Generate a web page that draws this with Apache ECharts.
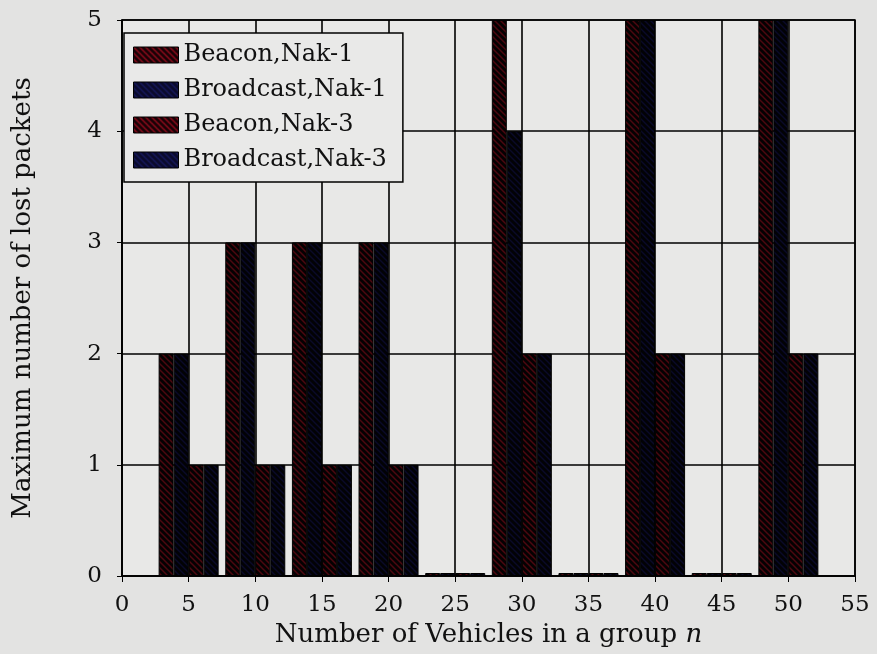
<!DOCTYPE html>
<html>
<head>
<meta charset="utf-8">
<script src="https://cdn.jsdelivr.net/npm/echarts@6/dist/echarts.min.js"></script>
<style>
  html, body { margin: 0; padding: 0; background: #e3e3e2; }
  #chart { width: 877px; height: 654px; }
</style>
</head>
<body>
<div id="chart"></div>
<script>
// Group sizes n (x positions of each bar group)
const groupSizes = [5, 10, 15, 20, 25, 30, 35, 40, 45, 50];

// Maximum number of lost packets per scheme
const beaconNak1    = [2, 3, 3, 3, 0, 5, 0, 5, 0, 5];
const broadcastNak1 = [2, 3, 3, 3, 0, 4, 0, 5, 0, 5];
const beaconNak3    = [1, 1, 1, 1, 0, 2, 0, 2, 0, 2];
const broadcastNak3 = [1, 1, 1, 1, 0, 2, 0, 2, 0, 2];

const seriesNames = ['Beacon,Nak-1', 'Broadcast,Nak-1', 'Beacon,Nak-3', 'Broadcast,Nak-3'];
const xTicks = { min: 0, max: 55, interval: 5 };
const yTicks = { min: 0, max: 5, interval: 1 };

// Hatched fill: near-black base with thin diagonal strokes
function hatch(base, line) {
  const c = document.createElement('canvas');
  c.width = 6; c.height = 6;
  const g = c.getContext('2d');
  g.fillStyle = base;
  g.fillRect(0, 0, 6, 6);
  g.strokeStyle = line;
  g.lineWidth = 1.5;
  g.beginPath();
  g.moveTo(-1, -1); g.lineTo(7, 7);
  g.moveTo(-1, 5); g.lineTo(1, 7);
  g.moveTo(5, -1); g.lineTo(7, 1);
  g.stroke();
  return { image: c, repeat: 'repeat' };
}

// bars: very dark, hatching only faintly visible
const redHatch = hatch('#050102', '#4c0810');
const blueHatch = hatch('#020205', '#0a0a28');
// legend swatches: hatching more visible
const redKey = hatch('#1a0206', '#8a0c1c');
const blueKey = hatch('#0a0a2c', '#16185a');

const fills = [redHatch, blueHatch, redHatch, blueHatch];
const keys = [redKey, blueKey, redKey, blueKey];
const values = [beaconNak1, broadcastNak1, beaconNak3, broadcastNak3];

const serif = 'DejaVu Serif';

const chart = echarts.init(document.getElementById('chart'), null, { renderer: 'canvas' });

chart.setOption({
  backgroundColor: '#e3e3e2',
  animation: false,
  grid: {
    left: 122, right: 22, top: 20, bottom: 78,
    outerBoundsMode: 'none',
    containLabel: false,
    show: true,
    backgroundColor: '#e8e8e7',
    borderColor: '#000',
    borderWidth: 1.5
  },
  legend: {
    orient: 'vertical',
    left: 124, top: 33,
    padding: [10, 16, 10, 9],
    itemGap: 11,
    itemWidth: 45, itemHeight: 16,
    icon: 'rect',
    backgroundColor: '#e9e9e8',
    borderColor: '#000',
    borderWidth: 1.5,
    borderRadius: 0,
    textStyle: { fontFamily: serif, fontSize: 24, color: '#111' },
    data: seriesNames.map((name, k) => ({
      name,
      itemStyle: { color: keys[k], borderColor: '#000', borderWidth: 1 }
    }))
  },
  xAxis: {
    type: 'value',
    min: xTicks.min, max: xTicks.max, interval: xTicks.interval,
    name: 'Number of Vehicles in a group {i|n}',
    nameLocation: 'middle',
    nameGap: 34,
    nameTextStyle: {
      fontFamily: serif, fontSize: 26, color: '#111',
      rich: { i: { fontFamily: serif, fontStyle: 'italic', fontSize: 26, color: '#111' } }
    },
    axisLine: { show: true, lineStyle: { color: '#000', width: 1.5 } },
    axisTick: { show: true, length: 6, lineStyle: { color: '#000', width: 1 } },
    axisLabel: { fontFamily: serif, fontSize: 23, color: '#111', margin: 18 },
    splitLine: { show: true, lineStyle: { color: '#000', width: 1.6 } }
  },
  yAxis: {
    type: 'value',
    min: yTicks.min, max: yTicks.max, interval: yTicks.interval,
    name: 'Maximum number of lost packets',
    nameLocation: 'middle',
    nameGap: 86,
    nameRotate: 90,
    nameTextStyle: { fontFamily: serif, fontSize: 26, color: '#111' },
    axisLine: { show: true, lineStyle: { color: '#000', width: 1.5 } },
    axisTick: { show: true, length: 5, lineStyle: { color: '#000', width: 1 } },
    axisLabel: { fontFamily: serif, fontSize: 23, color: '#111', margin: 20 },
    splitLine: { show: true, lineStyle: { color: '#000', width: 1.6 } }
  },
  series: seriesNames.map((name, k) => ({
    name,
    type: 'bar',
    barWidth: 15,
    barGap: '0%',
    barMinHeight: 3,
    data: groupSizes.map((n, i) => [n, values[k][i]]),
    itemStyle: { color: fills[k], borderColor: '#000', borderWidth: 1 },
    emphasis: { disabled: true }
  }))
});
</script>
</body>
</html>
